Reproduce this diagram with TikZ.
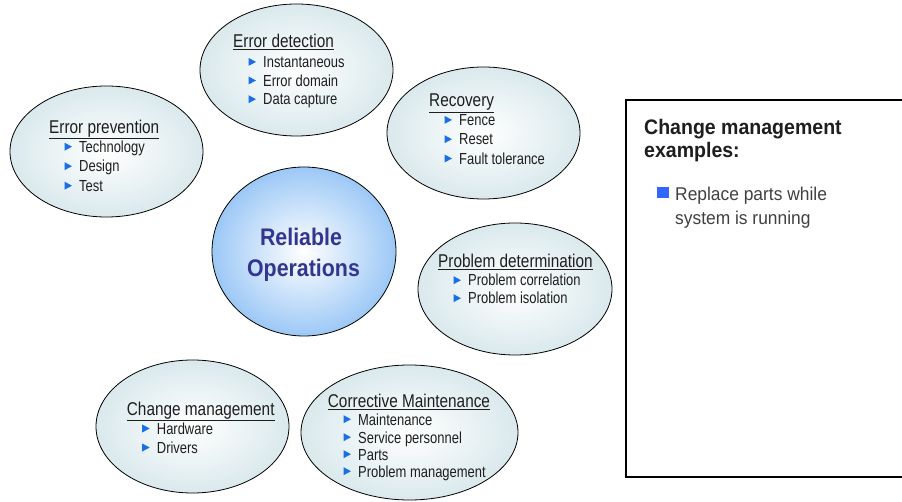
\documentclass[tikz,border=0pt]{standalone}
\usepackage{fontspec}
\setmainfont{Liberation Sans}
\newfontfamily\condt[FakeStretch=0.83]{Liberation Sans}
\newfontfamily\condi[FakeStretch=0.81]{Liberation Sans}
\newfontfamily\condb[FakeStretch=0.89]{Liberation Sans Bold}
\newfontfamily\boxb[FakeStretch=0.93]{Liberation Sans Bold}
\newfontfamily\boxr[FakeStretch=0.94]{Liberation Sans}
\definecolor{elledge}{HTML}{DAE9EC}
\definecolor{cenedge}{HTML}{9CC8F6}
\definecolor{cenText}{HTML}{33358F}
\definecolor{bulblue}{HTML}{1A6EE8}
\definecolor{sqblue}{HTML}{3366FF}
\definecolor{txt}{HTML}{1E1E1E}
\tikzset{
  bubble/.style={draw=black, line width=0.8pt, ellipse, inner color=white, outer color=elledge},
  ttl/.style={inner sep=0pt, anchor=base west, text=txt, font=\condt\fontsize{18.5}{20}\selectfont},
  itm/.style={inner sep=0pt, anchor=base west, text=txt, font=\condi\fontsize{16}{17}\selectfont},
}
\usetikzlibrary{shapes.geometric}
\newcommand\mybul[4]{%
  \node[itm] (#1) at (#2,#3) {#4};
  \fill[bulblue, shift={(#1.base west)}] (-14.5,-1.8) -- (-14.5,-9.8) -- (-7,-5.8) -- cycle;}
\newcommand\myttl[4]{\node[ttl] (#1) at (#2,#3) {\underline{#4}};}
\begin{document}
\begin{tikzpicture}[x=1pt,y=-1pt]
\useasboundingbox (0,0) rectangle (902,502);
\fill[white] (0,0) rectangle (902,502);
% bubbles
\node[bubble, minimum width=193, minimum height=132] (det) at (296.5,70) {};
\node[bubble, minimum width=193, minimum height=131] (prev) at (106.5,151.5) {};
\node[bubble, minimum width=193, minimum height=132] (rec) at (483.5,133) {};
\node[bubble, minimum width=194, minimum height=132] (prob) at (515,289) {};
\node[bubble, minimum width=217, minimum height=135] (corr) at (409.5,432.5) {};
\node[bubble, minimum width=193, minimum height=133] (chg) at (192.5,426.5) {};
\node[draw=black, line width=0.8pt, ellipse, inner color=white, outer color=cenedge,
      minimum width=184, minimum height=169] (cen) at (304,251.5) {};
\node[inner sep=0pt, anchor=base, text=cenText, font=\condb\fontsize{24}{26}\selectfont] (cen1) at (301,245.7) {Reliable};
\node[inner sep=0pt, anchor=base, text=cenText, font=\condb\fontsize{24}{26}\selectfont] (cen2) at (303.5,276.7) {Operations};
% Error detection
\myttl{detT}{233}{47.7}{Error detection}
\mybul{det1}{263}{67.7}{Instantaneous}
\mybul{det2}{263}{86.3}{Error domain}
\mybul{det3}{263}{105}{Data capture}
% Error prevention
\myttl{prevT}{49}{133.3}{Error prevention}
\mybul{prev1}{79}{152.5}{Technology}
\mybul{prev2}{79}{172}{Design}
\mybul{prev3}{79}{191.5}{Test}
% Recovery
\myttl{recT}{429}{106.7}{Recovery}
\mybul{rec1}{459}{125.7}{Fence}
\mybul{rec2}{459}{145}{Reset}
\mybul{rec3}{459}{164.3}{Fault tolerance}
% Problem determination
\myttl{probT}{438}{268}{Problem determination}
\mybul{prob1}{468}{286}{Problem correlation}
\mybul{prob2}{468}{304}{Problem isolation}
% Corrective Maintenance
\myttl{corrT}{327.7}{407.3}{Corrective Maintenance}
\mybul{corr1}{358}{425}{Maintenance}
\mybul{corr2}{358}{443}{Service personnel}
\mybul{corr3}{358}{460}{Parts}
\mybul{corr4}{358}{477}{Problem management}
% Change management
\myttl{chgT}{126.7}{415}{Change management}
\mybul{chg1}{156.7}{434.3}{Hardware}
\mybul{chg2}{156.7}{453.3}{Drivers}
% side box
\coordinate (bTR) at (903,100.5);
\coordinate (bTL) at (625.5,100.5);
\coordinate (bBL) at (625.5,477);
\coordinate (bBR) at (903,477);
\draw[line width=2pt, line join=miter] (bTR) -- (bTL) -- (bBL) -- (bBR);
\node[inner sep=0pt, anchor=base west, text=txt, font=\boxb\fontsize{21}{22}\selectfont] (bx1) at (644,135) {Change management};
\node[inner sep=0pt, anchor=base west, text=txt, font=\boxb\fontsize{21}{22}\selectfont] (bx2) at (644,158) {examples:};
\node[inner sep=0pt, anchor=base west, text=txt!85, font=\boxr\fontsize{18.5}{20}\selectfont] (bx3) at (675,200.5) {Replace parts while};
\node[inner sep=0pt, anchor=base west, text=txt!85, font=\boxr\fontsize{18.5}{20}\selectfont] (bx4) at (675,225) {system is running};
\fill[sqblue] (657.3,187.3) rectangle (668.5,198.5);
\end{tikzpicture}
\end{document}
